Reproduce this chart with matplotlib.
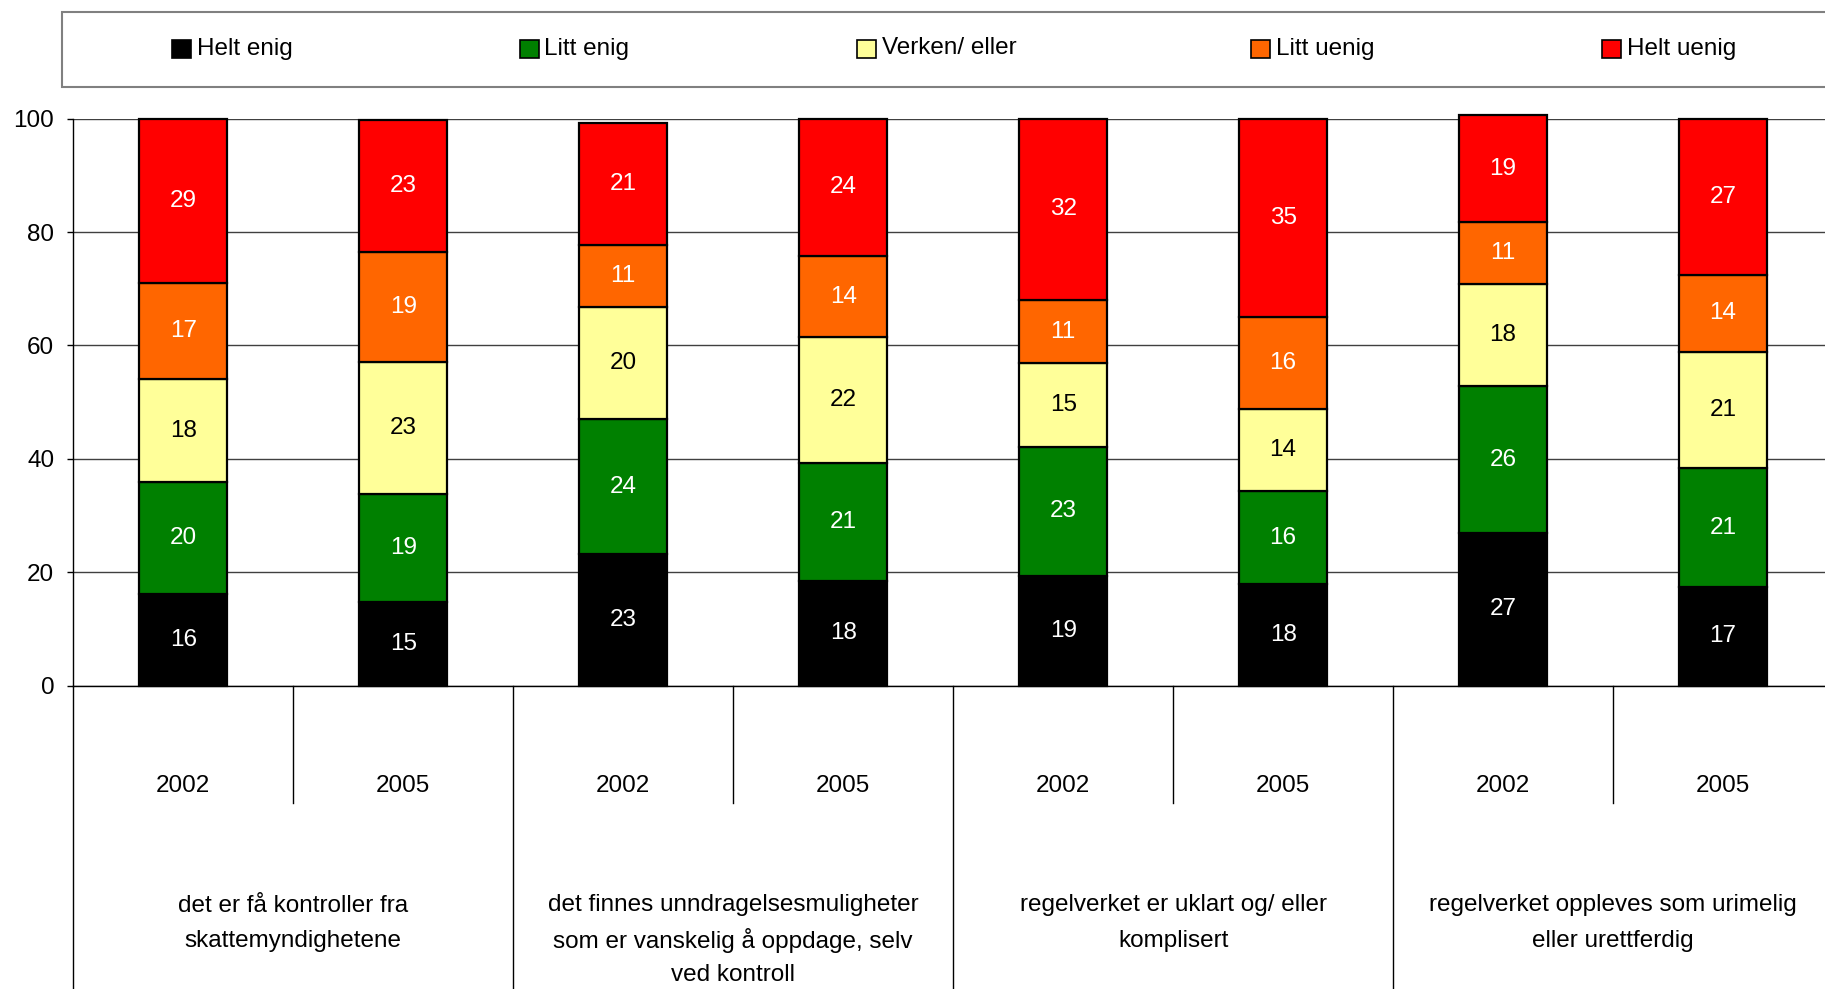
import matplotlib
matplotlib.use("Agg")
import matplotlib.pyplot as plt
from matplotlib.patches import Rectangle
import numpy as np

plt.rcParams['font.family'] = ['Liberation Sans', 'DejaVu Sans']

# ---- data ----
groups = ["det er få kontroller fra\nskattemyndighetene",
          "det finnes unndragelsesmuligheter\nsom er vanskelig å oppdage, selv\nved kontroll",
          "regelverket er uklart og/ eller\nkomplisert",
          "regelverket oppleves som urimelig\neller urettferdig"]
years = ["2002", "2005"]
series_names = ["Helt enig", "Litt enig", "Verken/ eller", "Litt uenig", "Helt uenig"]
helt_enig = [16.2, 14.8, 23.2, 18.4, 19.3, 17.9, 26.9, 17.4]
litt_enig = [19.7, 18.9, 23.8, 20.8, 22.8, 16.4, 25.9, 20.9]
verken = [18.1, 23.3, 19.7, 22.2, 14.8, 14.4, 18.0, 20.6]
litt_uenig = [17.0, 19.4, 11.1, 14.4, 11.1, 16.4, 10.9, 13.6]
helt_uenig = [29.0, 23.4, 21.4, 24.2, 32.0, 34.9, 18.9, 27.4]
yticks = [0, 20, 40, 60, 80, 100]

series = [helt_enig, litt_enig, verken, litt_uenig, helt_uenig]
colors = ["#000000", "#008000", "#FFFF99", "#FF6600", "#FF0000"]
text_colors = ["white", "white", "black", "white", "white"]

W, H = 1825, 989
fig = plt.figure(figsize=(W / 100, H / 100), dpi=100)
ax_left, ax_right = 73.3 / W, 1833.0 / W
ax_bot, ax_top = 1 - 685.5 / H, 1 - 118.7 / H
ax = fig.add_axes([ax_left, ax_bot, ax_right - ax_left, ax_top - ax_bot])

fs = 17.5
n = len(groups) * len(years)
x = np.arange(n)
bottom = np.zeros(n)
for vals, c, tc in zip(series, colors, text_colors):
    v = np.array(vals)
    ax.bar(x, v, bottom=bottom, width=0.4, color=c, edgecolor="black",
           linewidth=1.6, clip_on=False, zorder=3)
    for xi, b, vi in zip(x, bottom, v):
        ax.text(xi, b + vi / 2, f"{round(vi):.0f}", ha="center", va="center",
                color=tc, fontsize=fs, zorder=4)
    bottom += v

ax.set_xlim(-0.5, n - 0.5)
ax.set_ylim(0, 100)
ax.set_yticks(yticks)
ax.set_yticklabels([str(t) for t in yticks])
ax.tick_params(axis="y", length=4.3, width=1.0, pad=9.5, labelsize=fs)
ax.tick_params(axis="x", length=0, labelbottom=False)
ax.yaxis.grid(True, color="#404040", linewidth=1.0, zorder=0)
ax.set_axisbelow(True)
for s in ["top", "right"]:
    ax.spines[s].set_visible(False)
ax.spines["left"].set_linewidth(1.0)
ax.spines["bottom"].set_linewidth(1.0)

# hierarchical category axis
trans = ax.get_xaxis_transform()
axh = 685.5 - 118.7
y_fig_bottom = -(989 - 685.5) / axh
y_short = -(803 - 685.5) / axh
y_year = -(786 - 685.5) / axh
y_grp1 = -(905.5 - 685.5) / axh
line_pitch = 35 / axh

for i in range(n + 1):
    xb = i - 0.5
    if i % 2 == 0:
        ax.plot([xb, xb], [0, y_fig_bottom], transform=trans, color="black",
                linewidth=1.0, clip_on=False)
    else:
        ax.plot([xb, xb], [0, y_short], transform=trans, color="black",
                linewidth=1.0, clip_on=False)

for i in range(n):
    ax.text(i, y_year, years[i % 2], transform=trans, ha="center", va="center",
            fontsize=fs)

for g, label in enumerate(groups):
    for k, line in enumerate(label.split("\n")):
        ax.text(2 * g + 0.5, y_grp1 - k * line_pitch, line, transform=trans,
                ha="center", va="center", fontsize=fs)

# legend box
fig.patches.append(Rectangle((61.5 / W, 1 - 86.7 / H), 2.0, (86.7 - 12.3) / H,
                             transform=fig.transFigure, facecolor="white",
                             edgecolor="#808080", linewidth=1.5))
leg_x = [172, 519.5, 856.5, 1251, 1602]
for name, c, lx in zip(series_names, colors, leg_x):
    fig.patches.append(Rectangle((lx / W, 1 - 57.5 / H), 19 / W, 18 / H,
                                 transform=fig.transFigure, facecolor=c,
                                 edgecolor="black", linewidth=1.2))
    fig.text((lx + 25) / W, 1 - 48.5 / H, name, ha="left", va="center", fontsize=fs)

fig.savefig("out.png", dpi=100)
